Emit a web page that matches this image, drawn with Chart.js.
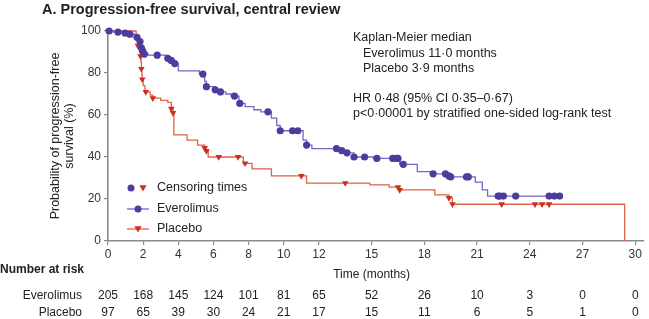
<!DOCTYPE html>
<html>
<head>
<meta charset="utf-8">
<script src="https://cdn.jsdelivr.net/npm/chart.js@4"></script>
<style>
  html, body { margin: 0; padding: 0; background: #fff; }
</style>
</head>
<body>
<canvas id="kmChart" width="649" height="319"></canvas>
<script>
// Kaplan-Meier steps (time in months, survival after the drop in %)
const evTimes = [0, 0.3, 0.8, 1.1, 1.5, 1.7, 1.8, 1.87, 1.95, 2.05, 2.3, 3.3, 3.6, 3.8, 4.0, 5.2, 5.5, 5.6, 6.1, 6.3, 6.7, 7.0, 7.45, 7.8, 8.3, 8.7, 9.3, 9.6, 9.8, 11.1, 11.3, 11.6, 13.2, 13.5, 14.0, 15.1, 16.6, 17.6, 18.4, 19.35, 19.5, 20.9, 21.3, 21.6, 25.7];
const evSurv  = [100, 99.5, 99, 98.5, 97, 96, 95, 92, 90.5, 89, 88.5, 87, 86, 84.5, 81, 79.5, 76, 73.5, 72, 71, 70, 69, 65.5, 64, 62.5, 61.5, 58.5, 55, 52.5, 48, 45.7, 44, 43, 42, 40, 39.3, 36.5, 33, 32, 31, 30.5, 28, 24.3, 21.4, 21.4];
const evCensor = [0.06, 0.57, 0.97, 1.25, 1.65, 1.82, 1.9, 1.97, 2.07, 2.8, 3.4, 3.6, 3.8, 5.4, 5.6, 6.1, 6.4, 7.2, 7.5, 9.1, 9.8, 10.5, 10.8, 11.3, 13.0, 13.3, 13.6, 14.0, 14.6, 15.3, 16.2, 16.4, 16.5, 16.8, 18.5, 19.2, 19.4, 19.5, 20.4, 20.5, 22.2, 22.3, 22.5, 23.2, 25.1, 25.4, 25.7];

const pbTimes = [0, 1.6, 1.7, 1.8, 1.85, 1.88, 1.9, 1.93, 1.95, 2.0, 2.1, 2.4, 2.55, 3.0, 3.4, 3.6, 3.7, 3.75, 4.5, 5.1, 5.5, 5.6, 5.7, 7.7, 8.2, 9.3, 11.3, 14.9, 16.0, 16.6, 18.6, 19.4, 19.6, 29.4];
const pbSurv  = [100, 96, 93, 90, 88, 85, 82, 79, 77, 74, 71, 69.5, 68, 67, 66, 63, 61, 50.5, 48, 45.7, 44.3, 42.9, 40, 37, 34.3, 31, 27.6, 26.7, 25.7, 24.3, 22, 20.5, 17.5, 0];
const pbCensor = [1.7, 1.85, 1.9, 1.95, 2.15, 2.55, 3.6, 3.7, 5.5, 5.6, 6.3, 7.4, 7.8, 11.0, 13.5, 16.5, 16.6, 19.4, 19.6, 22.4, 24.3, 24.7, 25.1];

// axis ticks and number at risk
const xTicks = [0, 2, 4, 6, 8, 10, 12, 15, 18, 21, 24, 27, 30];
const riskEverolimus = [205, 168, 145, 124, 101, 81, 65, 52, 26, 10, 3, 0, 0];
const riskPlacebo    = [97, 65, 39, 30, 24, 21, 17, 15, 11, 6, 5, 1, 0];

const titleText = 'A. Progression-free survival, central review';
const noteLines = ['Kaplan-Meier median', '   Everolimus 11\u00b70 months', '   Placebo 3\u00b79 months', '', 'HR 0\u00b748 (95% CI 0\u00b735\u20130\u00b767)', 'p<0\u00b700001 by stratified one-sided log-rank test'];

const FONT = '"Liberation Sans", Arial, Helvetica, sans-serif';
const evDot = '#4d3c9c';
const evLine = '#7368c4';
const pbDot = '#c9301e';
const pbLine = '#e0624a';

// survival value of a step curve at time t
function stepValue(times, surv, t) {
    let v = surv[0];
    for (let i = 0; i < times.length; i++) {
        if (times[i] <= t) v = surv[i];
    }
    return v;
}

const toPoints = (times, surv) => times.map((t, i) => ({ x: t, y: surv[i] }));
const censorPoints = (list, times, surv) => list.map(t => ({ x: t, y: stepValue(times, surv, t) }));

function triangleDown(ctx, x, y, r) {
    ctx.beginPath();
    ctx.moveTo(x - r, y - r * 0.75);
    ctx.lineTo(x + r, y - r * 0.75);
    ctx.lineTo(x, y + r * 0.95);
    ctx.closePath();
    ctx.fill();
}

const kmExtras = {
    id: 'kmExtras',
    afterDraw(chart) {
        const ctx = chart.ctx;
        const xs = chart.scales.x;
        ctx.save();
        ctx.fillStyle = '#222';
        ctx.textBaseline = 'middle';

        // title
        ctx.font = 'bold 14.5px ' + FONT;
        ctx.textAlign = 'left';
        ctx.fillText(titleText, 42, 10);

        // y axis title, two lines
        ctx.font = '12.5px ' + FONT;
        ctx.save();
        ctx.translate(56, 136);
        ctx.rotate(-Math.PI / 2);
        ctx.textAlign = 'center';
        ctx.fillText('Probability of progression-free', 0, 0);
        ctx.fillText('survival (%)', 0, 14);
        ctx.restore();

        // annotation block
        ctx.textAlign = 'left';
        noteLines.forEach((line, i) => {
            if (line) ctx.fillText(line.trim(), line.startsWith(' ') ? 363 : 353, 38 + i * 15.2);
        });

        // legend
        ctx.fillText('Censoring times', 157, 188);
        ctx.fillText('Everolimus', 157, 209);
        ctx.fillText('Placebo', 157, 229);
        ctx.fillStyle = evDot;
        ctx.beginPath(); ctx.arc(131, 188, 3.5, 0, Math.PI * 2); ctx.fill();
        ctx.fillStyle = pbDot;
        triangleDown(ctx, 143, 188, 3.6);
        ctx.lineWidth = 1.3;
        ctx.strokeStyle = evLine;
        ctx.beginPath(); ctx.moveTo(127, 209); ctx.lineTo(149, 209); ctx.stroke();
        ctx.fillStyle = evDot;
        ctx.beginPath(); ctx.arc(138, 209, 3.5, 0, Math.PI * 2); ctx.fill();
        ctx.strokeStyle = pbLine;
        ctx.beginPath(); ctx.moveTo(127, 229); ctx.lineTo(149, 229); ctx.stroke();
        ctx.fillStyle = pbDot;
        triangleDown(ctx, 138, 229, 3.6);

        // x axis title and number at risk
        ctx.fillStyle = '#222';
        ctx.font = '12px ' + FONT;
        ctx.textAlign = 'center';
        ctx.fillText('Time (months)', (xs.left + xs.getPixelForValue(30)) / 2, 275);
        ctx.font = 'bold 12px ' + FONT;
        ctx.textAlign = 'left';
        ctx.fillText('Number at risk', 0, 270);
        ctx.font = '12px ' + FONT;
        ctx.textAlign = 'right';
        ctx.fillText('Everolimus', 82, 296);
        ctx.fillText('Placebo', 82, 313);
        ctx.textAlign = 'center';
        xTicks.forEach((t, i) => {
            const px = xs.getPixelForValue(t);
            ctx.fillText(String(riskEverolimus[i]), px, 296);
            ctx.fillText(String(riskPlacebo[i]), px, 313);
        });
        ctx.restore();
    }
};

const axisGrid = { drawOnChartArea: false, drawTicks: true, tickLength: 4, color: '#8a8a8a', lineWidth: 1.2 };
const axisBorder = { color: '#8a8a8a', width: 1.6 };

new Chart(document.getElementById('kmChart'), {
    type: 'line',
    data: {
        datasets: [{
            label: 'Everolimus censored',
            data: censorPoints(evCensor, evTimes, evSurv),
            showLine: false,
            pointRadius: 3.6,
            pointBackgroundColor: evDot,
            pointBorderWidth: 0,
            clip: false
        }, {
            label: 'Everolimus',
            data: toPoints(evTimes, evSurv),
            stepped: 'before',
            borderColor: evLine,
            borderWidth: 1.3,
            pointRadius: 0,
            fill: false,
            clip: false
        }, {
            label: 'Placebo censored',
            data: censorPoints(pbCensor, pbTimes, pbSurv),
            showLine: false,
            pointStyle: 'triangle',
            rotation: 180,
            pointRadius: 3.8,
            pointBackgroundColor: pbDot,
            pointBorderWidth: 0,
            clip: false
        }, {
            label: 'Placebo',
            data: toPoints(pbTimes, pbSurv),
            stepped: 'before',
            borderColor: pbLine,
            borderWidth: 1.3,
            pointRadius: 0,
            fill: false,
            clip: false
        }]
    },
    options: {
        responsive: false,
        animation: false,
        layout: { padding: { left: 0, right: 5, top: 31, bottom: 0 } },
        plugins: {
            legend: { display: false },
            tooltip: { enabled: false }
        },
        scales: {
            x: {
                type: 'linear',
                min: 0,
                max: 30.5,
                grid: axisGrid,
                border: axisBorder,
                afterBuildTicks: scale => { scale.ticks = xTicks.map(v => ({ value: v })); },
                afterFit: scale => { scale.height = 78; },
                ticks: { autoSkip: false, maxRotation: 0, padding: 2, color: '#333', font: { family: FONT, size: 12 } }
            },
            y: {
                min: 0,
                max: 100,
                grid: axisGrid,
                border: axisBorder,
                afterFit: scale => { scale.width = 108; },
                ticks: { stepSize: 20, padding: 3, color: '#333', font: { family: FONT, size: 12 } }
            }
        }
    },
    plugins: [kmExtras]
});
</script>
</body>
</html>
